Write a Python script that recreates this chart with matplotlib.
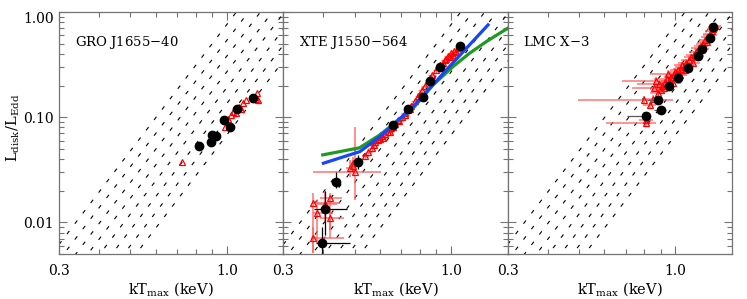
import numpy as np
import matplotlib
matplotlib.use('Agg')
import matplotlib.pyplot as plt
from matplotlib.ticker import FixedLocator, NullFormatter

plt.rcParams['font.family'] = ['DejaVu Serif']
plt.rcParams['mathtext.fontset'] = 'dejavuserif'
plt.rcParams['lines.scale_dashes'] = False

## constant inner-radius lines, L ~ c * T^4
norms = [0.76, 0.538, 0.381, 0.270, 0.191, 0.135, 0.0957, 0.0678]

names = ['GRO J1655$-$40', 'XTE J1550$-$564', 'LMC X$-$3']

# GRO J1655-40
gro_blk_T = [0.822, 0.894, 0.896, 0.927, 0.981, 1.026, 1.073, 1.21]
gro_blk_L = [0.0534, 0.0586, 0.0679, 0.0664, 0.0943, 0.0809, 0.119, 0.152]
gro_red_T = [0.726, 0.988, 1.007, 1.03, 1.043, 1.066, 1.095, 1.11, 1.12, 1.149, 1.23, 1.246, 1.254]
gro_red_L = [0.0373, 0.0814, 0.0957, 0.105, 0.113, 0.109, 0.126, 0.12, 0.136, 0.146, 0.15, 0.169, 0.146]

# XTE J1550-564
xte_blk_T = [0.395, 0.405, 0.438, 0.514, 0.66, 0.735, 0.818, 0.862, 0.922, 1.064]
xte_blk_L = [0.00643, 0.0134, 0.0244, 0.0378, 0.0845, 0.119, 0.155, 0.223, 0.299, 0.476]
xte_blk_Tlo = [0.379, 0.373, 0.43, 0.505, 0.65, 0.73, 0.81, 0.855, 0.915, 1.055]
xte_blk_Thi = [0.484, 0.474, 0.447, 0.523, 0.67, 0.74, 0.826, 0.87, 0.93, 1.073]
xte_blk_Llo = [0.0050, 0.0075, 0.021, 0.032, 0.08, 0.113, 0.148, 0.213, 0.29, 0.46]
xte_blk_Lhi = [0.0090, 0.0200, 0.030, 0.044, 0.089, 0.125, 0.162, 0.233, 0.31, 0.49]

xte_red_T = [0.496, 0.508, 0.54, 0.552, 0.565, 0.579, 0.59, 0.6, 0.607, 0.62, 0.637, 0.65,
             0.66, 0.668, 0.685, 0.701, 0.718, 0.72, 0.735, 0.752, 0.771, 0.79, 0.809,
             0.828, 0.848, 0.87, 0.9, 0.925, 0.94, 0.956, 0.975, 0.99, 1.002, 1.02, 1.035, 1.051,
             0.575, 0.615, 0.645, 0.69, 0.745, 0.80, 0.86, 0.915, 0.965, 1.01]
xte_red_L = [0.034, 0.0365, 0.043, 0.0471, 0.051, 0.0587, 0.061, 0.062, 0.0655, 0.069, 0.073, 0.079,
             0.08, 0.0864, 0.094, 0.101, 0.109, 0.106, 0.117, 0.128, 0.141, 0.16, 0.182,
             0.2, 0.226, 0.25, 0.282, 0.31, 0.33, 0.35, 0.38, 0.37, 0.406, 0.43, 0.42, 0.452,
             0.054, 0.064, 0.072, 0.092, 0.12, 0.165, 0.235, 0.3, 0.36, 0.39]

xte_low_T = [0.372, 0.420, 0.382, 0.420, 0.372, 0.502, 0.484, 0.495, 0.405]
xte_low_L = [0.0152, 0.0170, 0.0122, 0.0110, 0.0071, 0.0300, 0.0330, 0.0365, 0.0150]
xte_low_Tlo = [0.368, 0.391, 0.372, 0.391, 0.365, 0.372, 0.47, 0.485, 0.385]
xte_low_Thi = [0.451, 0.456, 0.429, 0.462, 0.462, 0.606, 0.50, 0.505, 0.44]
xte_low_Llo = [0.0051, 0.0085, 0.0063, 0.0071, 0.0051, 0.0164, 0.027, 0.031, 0.0100]
xte_low_Lhi = [0.0189, 0.0189, 0.0164, 0.0130, 0.0090, 0.0815, 0.039, 0.042, 0.0200]

xte_blue_T = [0.400, 0.520, 0.600, 0.762, 0.967, 1.303]
xte_blue_L = [0.0365, 0.0471, 0.0654, 0.126, 0.282, 0.754]
xte_green_T = [0.398, 0.518, 0.600, 0.762, 0.879, 1.014, 1.142, 1.287, 1.50]
xte_green_L = [0.0438, 0.0511, 0.0679, 0.122, 0.203, 0.303, 0.406, 0.523, 0.701]

# LMC X-3
lmc_blk_T = [1.309, 1.278, 1.213, 1.178, 1.095, 1.017, 0.956, 0.879, 0.904, 0.811]
lmc_blk_L = [0.717, 0.564, 0.446, 0.385, 0.292, 0.238, 0.200, 0.146, 0.117, 0.1035]
lmc_blk_Tlo = [1.29, 1.26, 1.19, 1.16, 1.07, 0.99, 0.93, 0.816, 0.86, 0.708]
lmc_blk_Thi = [1.33, 1.30, 1.235, 1.20, 1.12, 1.045, 0.98, 0.892, 0.935, 0.815]

lmc_red_T = [0.80, 0.807, 0.81, 0.83, 0.85, 0.86, 0.87, 0.88, 0.90, 0.91, 0.92, 0.93, 0.95, 0.96,
             0.97, 0.99, 1.00, 1.02, 1.04, 1.05, 1.06, 1.08, 1.10, 1.12, 1.14, 1.16, 1.18,
             1.20, 1.22, 1.24, 1.26, 1.28, 1.30, 1.32, 1.33,
             0.89, 0.94, 0.98, 1.01, 1.03, 1.07, 1.09, 1.13, 1.17, 1.21, 1.25, 1.29, 1.31]
lmc_red_L = [0.146, 0.088, 0.095, 0.13, 0.15, 0.19, 0.221, 0.17, 0.18, 0.2, 0.19, 0.215, 0.258, 0.22,
             0.24, 0.25, 0.27, 0.28, 0.29, 0.31, 0.3, 0.33, 0.35, 0.37, 0.39, 0.42, 0.45,
             0.48, 0.5, 0.54, 0.58, 0.62, 0.66, 0.72, 0.74,
             0.205, 0.23, 0.21, 0.26, 0.25, 0.28, 0.31, 0.33, 0.38, 0.44, 0.52, 0.6, 0.69]
lmc_red_Tlo = [0.496, 0.606, 0.77, 0.79, 0.81, 0.73, 0.68, 0.83, 0.85, 0.86, 0.87, 0.88, 0.83, 0.90,
               0.92, 0.93, 0.95, 0.96, 0.98, 0.99, 1.0, 1.02, 1.04, 1.06, 1.08, 1.10, 1.12,
               1.14, 1.16, 1.18, 1.20, 1.22, 1.24, 1.26, 1.28,
               0.76, 0.86, 0.90, 0.94, 0.96, 1.00, 1.02, 1.06, 1.10, 1.14, 1.18, 1.22, 1.25]
lmc_red_Thi = [0.98, 0.87, 0.85, 0.87, 0.89, 0.93, 0.98, 0.93, 0.95, 0.96, 0.97, 0.98, 1.07, 1.02,
               1.02, 1.05, 1.06, 1.08, 1.10, 1.11, 1.12, 1.14, 1.16, 1.18, 1.20, 1.22, 1.24,
               1.26, 1.28, 1.30, 1.32, 1.34, 1.36, 1.38, 1.39,
               0.95, 1.00, 1.04, 1.07, 1.09, 1.13, 1.15, 1.19, 1.23, 1.27, 1.31, 1.35, 1.37]

xlim = (0.3, 1.5)
ylim = (0.005, 1.0)
T_grid = np.logspace(np.log10(xlim[0]), np.log10(xlim[1]), 50)

fig, axes = plt.subplots(1, 3, figsize=(7.47, 2.99), dpi=100, sharey=True)
fig.subplots_adjust(left=59/747, right=732/747, bottom=1-254/299, top=1-12/299, wspace=0)

pink = '#ff6060'

for i, ax in enumerate(axes):
    for c in norms:
        ax.plot(T_grid, c * T_grid**4, color='k', lw=0.8, dashes=(2.9, 6.5))

    if i == 0:
        ax.plot(gro_red_T, gro_red_L, ls='none', marker='^', ms=5, mfc='none', mec='red', mew=0.9)
        ax.plot(gro_blk_T, gro_blk_L, ls='none', marker='o', ms=6, color='k')
    elif i == 1:
        xl = np.array(xte_low_T); yl = np.array(xte_low_L)
        ax.errorbar(xl, yl, xerr=[xl - np.array(xte_low_Tlo), np.array(xte_low_Thi) - xl],
                    yerr=[yl - np.array(xte_low_Llo), np.array(xte_low_Lhi) - yl],
                    fmt='none', ecolor=pink, elinewidth=1.3, alpha=0.75)
        ax.plot(xte_low_T, xte_low_L, ls='none', marker='^', ms=5, mfc='none', mec='red', mew=0.9)
        xr = np.array(xte_red_T); yr = np.array(xte_red_L)
        ax.errorbar(xr, yr, xerr=0.025 * xr, yerr=0.06 * yr, fmt='none', ecolor=pink,
                    elinewidth=1.0, alpha=0.8)
        ax.plot(xte_red_T, xte_red_L, ls='none', marker='^', ms=5, mfc='none', mec='red', mew=0.9)
        xb = np.array(xte_blk_T); yb = np.array(xte_blk_L)
        ax.errorbar(xb, yb, xerr=[xb - np.array(xte_blk_Tlo), np.array(xte_blk_Thi) - xb],
                    yerr=[yb - np.array(xte_blk_Llo), np.array(xte_blk_Lhi) - yb],
                    fmt='o', ms=6, color='k', ecolor='k', elinewidth=0.9)
        ax.plot(xte_green_T, xte_green_L, color='#1f9a1f', lw=2.3)
        ax.plot(xte_blue_T, xte_blue_L, color='#1745ff', lw=2.3)
    else:
        xr = np.array(lmc_red_T); yr = np.array(lmc_red_L)
        ax.errorbar(xr, yr, xerr=[xr - np.array(lmc_red_Tlo), np.array(lmc_red_Thi) - xr],
                    yerr=0.08 * yr, fmt='none', ecolor=pink, elinewidth=1.2, alpha=0.8)
        ax.plot(lmc_red_T, lmc_red_L, ls='none', marker='^', ms=5, mfc='none', mec='red', mew=0.9)
        xb = np.array(lmc_blk_T); yb = np.array(lmc_blk_L)
        ax.errorbar(xb, yb, xerr=[xb - np.array(lmc_blk_Tlo), np.array(lmc_blk_Thi) - xb],
                    fmt='o', ms=6, color='k', ecolor='0.35', elinewidth=0.9)

    ax.set_xscale('log')
    ax.set_yscale('log')
    ax.set_xlim(*xlim)
    ax.set_ylim(*ylim)

    ax.xaxis.set_major_locator(FixedLocator([0.3, 1.0]))
    ax.set_xticklabels(['0.3', '1.0'])
    ax.xaxis.set_minor_locator(FixedLocator([0.4, 0.5, 0.6, 0.7, 0.8, 0.9]))
    ax.xaxis.set_minor_formatter(NullFormatter())
    ax.yaxis.set_major_locator(FixedLocator([0.01, 0.1, 1.0]))
    ax.yaxis.set_minor_locator(FixedLocator([0.005, 0.006, 0.007, 0.008, 0.009,
                                             0.02, 0.03, 0.04, 0.05, 0.06, 0.07, 0.08, 0.09,
                                             0.2, 0.3, 0.4, 0.5, 0.6, 0.7, 0.8, 0.9]))
    ax.yaxis.set_minor_formatter(NullFormatter())
    ax.tick_params(which='both', direction='in', top=True, right=True, color='0.45', width=0.8,
                   labelsize=10)
    ax.tick_params(which='major', length=6)
    ax.tick_params(which='minor', length=3.5)
    ax.tick_params(axis='x', pad=7)
    for s in ax.spines.values():
        s.set_color('0.45')
        s.set_linewidth(0.9)

    ax.text(0.07, 0.875, names[i], transform=ax.transAxes, fontsize=9.5, va='center', ha='left')
    ax.set_xlabel('kT$_{\\rm max}$ (keV)', fontsize=10.5, labelpad=2)

axes[0].set_yticklabels(['0.01', '0.10', '1.00'])
# top label sits just inside the frame, as in the original
axes[0].get_yticklabels()[2].set_va('top')
axes[0].set_ylabel('L$_{\\rm disk}$/L$_{\\rm Edd}$', fontsize=10.5)
axes[0].yaxis.set_label_coords(-0.165, 0.52)

plt.savefig('out.png', dpi=100)
